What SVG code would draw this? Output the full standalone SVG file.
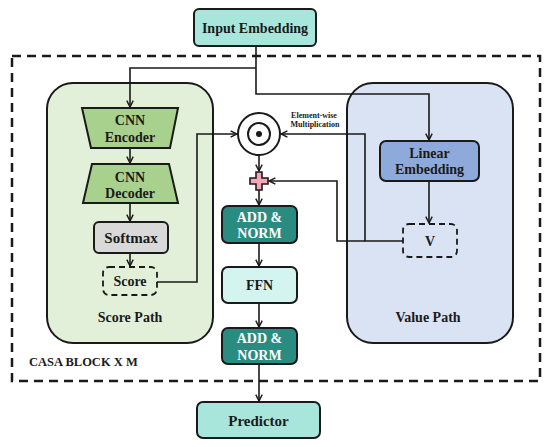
<svg xmlns="http://www.w3.org/2000/svg" width="550" height="447" viewBox="0 0 550 447">
<defs>
<style>
.t{font-family:"Liberation Serif","Times New Roman",serif;font-weight:bold;font-size:14px;fill:#1a1a1a;text-anchor:middle}
.w{fill:#ffffff}
.box{stroke:#1a1a1a;stroke-width:2}
.ln{fill:none;stroke:#1a1a1a;stroke-width:1.6}
.dash{fill:none;stroke:#1a1a1a;stroke-width:1.8;stroke-dasharray:6,4}
</style>
<marker id="ah" viewBox="0 0 10 10" refX="9" refY="5" markerWidth="8" markerHeight="8" markerUnits="userSpaceOnUse" orient="auto">
<path d="M1,1 L9,5 L1,9" fill="none" stroke="#1a1a1a" stroke-width="1.8"/>
</marker>
</defs>
<rect width="550" height="447" fill="#ffffff"/>

<g id="casa-block">
<rect x="12" y="56" width="528" height="325" fill="none" stroke="#1a1a1a" stroke-width="2.5" stroke-dasharray="9,6"/>
<text class="t" x="29" y="366" style="text-anchor:start;font-size:12.5px">CASA BLOCK X M</text>
</g>

<g id="score-path">
<rect x="47" y="83" width="166" height="260" rx="26" fill="#e2f0d9" class="box"/>
<text class="t" x="130" y="322">Score Path</text>
</g>

<g id="value-path">
<rect x="347" y="83" width="166" height="260" rx="26" fill="#dae3f3" class="box"/>
<text class="t" x="428" y="322">Value Path</text>
</g>

<g id="input-embedding">
<rect x="194" y="9" width="122" height="37" rx="5" fill="#a8e6dc" class="box"/>
<text class="t" x="255" y="32.5">Input Embedding</text>
</g>

<g id="cnn-encoder">
<polygon points="82,108 178,108 170,148 91,148" fill="#a9d18e" class="box"/>
<text class="t" x="130" y="125">CNN</text>
<text class="t" x="130" y="142">Encoder</text>
</g>

<g id="cnn-decoder">
<polygon points="92,164 169,164 178,203 83,203" fill="#a9d18e" class="box"/>
<text class="t" x="130" y="182">CNN</text>
<text class="t" x="130" y="198">Decoder</text>
</g>

<g id="softmax">
<rect x="94" y="222" width="74" height="31" rx="5" fill="#d9d9d9" class="box"/>
<text class="t" x="131" y="242.5" style="font-size:15px">Softmax</text>
</g>

<g id="score">
<rect x="103" y="267" width="54" height="28" rx="6" fill="#e2f0d9" class="dash"/>
<text class="t" x="130" y="286">Score</text>
</g>

<g id="linear-embedding">
<rect x="380" y="141" width="99" height="40" rx="6" fill="#8eaadb" class="box"/>
<text class="t" x="429.5" y="158">Linear</text>
<text class="t" x="429.5" y="174">Embedding</text>
</g>

<g id="v">
<rect x="403" y="224" width="54" height="33" rx="6" fill="#dae3f3" class="dash"/>
<text class="t" x="430" y="246">V</text>
</g>

<g id="multiply">
<circle cx="259" cy="134" r="21" fill="#ffffff" stroke="#1a1a1a" stroke-width="2"/>
<circle cx="259" cy="134" r="11" fill="none" stroke="#1a1a1a" stroke-width="2"/>
<circle cx="259" cy="134" r="3" fill="#1a1a1a"/>
<text class="t" x="314" y="118" style="font-size:8px">Element-wise</text>
<text class="t" x="315" y="127" style="font-size:8px">Multiplication</text>
</g>

<g id="add">
<path d="M256,172 h6 v6 h6 v6 h-6 v6 h-6 v-6 h-6 v-6 h6 z" fill="#f4a6b7" stroke="#1a1a1a" stroke-width="1.6"/>
</g>

<g id="add-norm-1">
<rect x="222" y="206" width="75" height="37" rx="6" fill="#2a8c81" class="box"/>
<text class="t w" x="259.5" y="221.5">ADD &amp;</text>
<text class="t w" x="259.5" y="238">NORM</text>
</g>

<g id="ffn">
<rect x="222" y="267" width="75" height="36" rx="6" fill="#d4f4f0" class="box"/>
<text class="t" x="259.5" y="290">FFN</text>
</g>

<g id="add-norm-2">
<rect x="222" y="328" width="75" height="36" rx="6" fill="#2a8c81" class="box"/>
<text class="t w" x="259.5" y="343">ADD &amp;</text>
<text class="t w" x="259.5" y="359.5">NORM</text>
</g>

<g id="predictor">
<rect x="197" y="402" width="123" height="36" rx="6" fill="#a8e6dc" class="box"/>
<text class="t" x="258.5" y="425.5" style="font-size:15px">Predictor</text>
</g>

<g id="connectors">
<path class="ln" d="M256,46 V94 H429 V140" marker-end="url(#ah)"/>
<path class="ln" d="M256,68 H130 V107" marker-end="url(#ah)"/>
<path class="ln" d="M130,148 V163" marker-end="url(#ah)"/>
<path class="ln" d="M130,203 V221" marker-end="url(#ah)"/>
<path class="ln" d="M130,253 V266" marker-end="url(#ah)"/>
<path class="ln" d="M157,282 H197 V134 H237" marker-end="url(#ah)"/>
<path class="ln" d="M429,181 V223" marker-end="url(#ah)"/>
<path class="ln" d="M403,241 H365 V134 H281" marker-end="url(#ah)"/>
<path class="ln" d="M365,241 H337 V181 H269" marker-end="url(#ah)"/>
<path class="ln" d="M259,155 V171" marker-end="url(#ah)"/>
<path class="ln" d="M259,190 V205" marker-end="url(#ah)"/>
<path class="ln" d="M259,243 V266" marker-end="url(#ah)"/>
<path class="ln" d="M259,303 V327" marker-end="url(#ah)"/>
<path class="ln" d="M259,364 V401" marker-end="url(#ah)"/>
</g>
</svg>
